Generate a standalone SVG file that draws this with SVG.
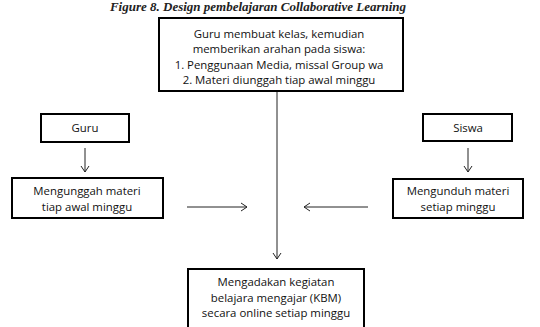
<svg xmlns="http://www.w3.org/2000/svg" width="540" height="327" viewBox="0 0 540 327">
<style>
.box{fill:#fff;stroke:#000;stroke-width:2}
.t{font-family:"Open Sans","Liberation Sans",sans-serif;font-size:11.4px;fill:#111;text-anchor:middle}
.ttl{font-family:"Liberation Serif",serif;font-size:13px;font-style:italic;font-weight:bold;fill:#222;text-anchor:middle}
.c{stroke:#222;stroke-width:1;fill:none;marker-end:url(#ah)}
</style>
<defs>
<marker id="ah" markerWidth="8" markerHeight="10" refX="7" refY="5" orient="auto" markerUnits="userSpaceOnUse">
<path d="M1,1 L7,5 L1,9" fill="none" stroke="#222" stroke-width="1"/>
</marker>
</defs>
<rect width="540" height="327" fill="#fff"/>
<text class="ttl" x="258" y="11">Figure 8. Design pembelajaran Collaborative Learning</text>
<g id="connectors">
<line class="c" x1="277" y1="92" x2="277" y2="259"/>
<line class="c" x1="85" y1="148" x2="85" y2="172"/>
<line class="c" x1="468" y1="148" x2="468" y2="172"/>
<line class="c" x1="187" y1="207" x2="247" y2="207"/>
<line class="c" x1="368" y1="207" x2="304" y2="207"/>
</g>
<g id="top">
<rect class="box" x="159" y="18" width="244" height="73"/>
<text class="t" x="279" y="37.5">Guru membuat kelas, kemudian</text>
<text class="t" x="279" y="53">memberikan arahan pada siswa:</text>
<text class="t" x="279" y="68.5">1. Penggunaan Media, missal Group wa</text>
<text class="t" x="279" y="84">2. Materi diunggah tiap awal minggu</text>
</g>
<g id="guru">
<rect class="box" x="41" y="114" width="88" height="28"/>
<text class="t" x="85" y="132">Guru</text>
</g>
<g id="siswa">
<rect class="box" x="423" y="114" width="89" height="27"/>
<text class="t" x="468" y="131.5">Siswa</text>
</g>
<g id="unggah">
<rect class="box" x="12" y="178" width="151" height="40"/>
<text class="t" x="87" y="195">Mengunggah materi</text>
<text class="t" x="87" y="211">tiap awal minggu</text>
</g>
<g id="unduh">
<rect class="box" x="393" y="179" width="130" height="39"/>
<text class="t" x="458" y="195">Mengunduh materi</text>
<text class="t" x="458" y="211">setiap minggu</text>
</g>
<g id="kbm">
<rect class="box" x="188" y="269" width="176" height="70"/>
<text class="t" x="276" y="286">Mengadakan kegiatan</text>
<text class="t" x="276" y="301.5">belajara mengajar (KBM)</text>
<text class="t" x="276" y="317">secara online setiap minggu</text>
</g>
</svg>
